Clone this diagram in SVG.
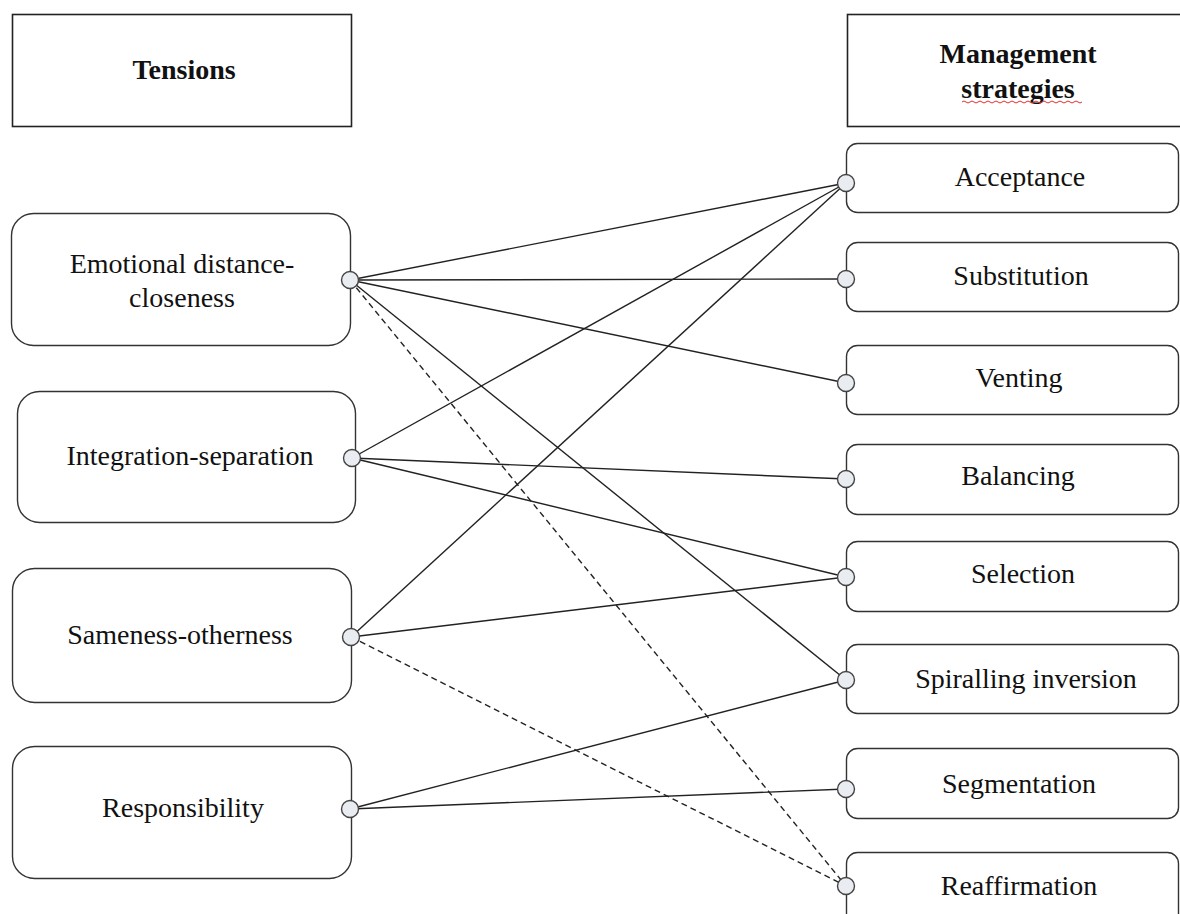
<svg xmlns="http://www.w3.org/2000/svg" width="1180" height="914" viewBox="0 0 1180 914">
<style>
.hdr{fill:#fff;stroke:#222;stroke-width:1.6}
.lb{fill:#fff;stroke:#333;stroke-width:1.4}
.rb{fill:#fff;stroke:#333;stroke-width:1.4}
.t{font-family:"Liberation Serif","Times New Roman",serif;font-size:28px;fill:#111;text-anchor:middle}
.b{font-weight:bold}
.c{stroke:#222;stroke-width:1.4;fill:none}
.d{stroke-dasharray:6 4}
.p{fill:#e9ecf1;stroke:#444;stroke-width:1.4}
</style>
<rect width="1180" height="914" fill="#fff"/>
<g id="hdr-tensions">
<rect class="hdr" x="12.5" y="14.5" width="339" height="112"/>
<text class="t b" x="184" y="79">Tensions</text>
</g>
<g id="hdr-strategies">
<rect class="hdr" x="847.5" y="14.5" width="340" height="112"/>
<text class="t b" x="1018" y="63">Management</text>
<text class="t b" x="1018" y="98">strategies</text>
<path d="M962 102 q2 -2 4 0 t4 0 t4 0 t4 0 t4 0 t4 0 t4 0 t4 0 t4 0 t4 0 t4 0 t4 0 t4 0 t4 0 t4 0 t4 0 t4 0 t4 0 t4 0 t4 0 t4 0 t4 0 t4 0 t4 0 t4 0 t4 0 t4 0 t4 0 t4 0 t4 0" fill="none" stroke="#e03030" stroke-width="1"/>
</g>
<g id="connectors">
<line class="c" x1="350" y1="280" x2="846" y2="183"/>
<line class="c" x1="350" y1="280" x2="846" y2="279"/>
<line class="c" x1="350" y1="280" x2="846" y2="383"/>
<line class="c" x1="350" y1="280" x2="846" y2="680"/>
<line class="c d" x1="350" y1="280" x2="846" y2="886"/>
<line class="c" x1="352" y1="458" x2="846" y2="183"/>
<line class="c" x1="352" y1="458" x2="846" y2="479"/>
<line class="c" x1="352" y1="458" x2="846" y2="577"/>
<line class="c" x1="351" y1="637" x2="846" y2="183"/>
<line class="c" x1="351" y1="637" x2="846" y2="577"/>
<line class="c d" x1="351" y1="637" x2="846" y2="886"/>
<line class="c" x1="350" y1="809" x2="846" y2="680"/>
<line class="c" x1="350" y1="809" x2="846" y2="789"/>
</g>
<g id="t-emotional">
<rect class="lb" x="11.5" y="213.5" width="339" height="132" rx="22"/>
<text class="t" x="182" y="273">Emotional distance-</text>
<text class="t" x="182" y="307">closeness</text>
<circle class="p" cx="350" cy="280" r="8.5"/>
</g>
<g id="t-integration">
<rect class="lb" x="17.5" y="391.5" width="338" height="131" rx="22"/>
<text class="t" x="190" y="465">Integration-separation</text>
<circle class="p" cx="352" cy="458" r="8.5"/>
</g>
<g id="t-sameness">
<rect class="lb" x="12.5" y="568.5" width="339" height="134" rx="22"/>
<text class="t" x="180" y="644">Sameness-otherness</text>
<circle class="p" cx="351" cy="637" r="8.5"/>
</g>
<g id="t-responsibility">
<rect class="lb" x="12.5" y="746.5" width="339" height="132" rx="22"/>
<text class="t" x="183" y="817">Responsibility</text>
<circle class="p" cx="350" cy="809" r="8.5"/>
</g>
<g id="s-acceptance">
<rect class="rb" x="846.5" y="143.5" width="332" height="69" rx="11"/>
<text class="t" x="1020" y="186">Acceptance</text>
<circle class="p" cx="846" cy="183" r="8.5"/>
</g>
<g id="s-substitution">
<rect class="rb" x="846.5" y="242.5" width="332" height="69" rx="11"/>
<text class="t" x="1021" y="285">Substitution</text>
<circle class="p" cx="846" cy="279" r="8.5"/>
</g>
<g id="s-venting">
<rect class="rb" x="846.5" y="345.5" width="332" height="69" rx="11"/>
<text class="t" x="1019" y="387">Venting</text>
<circle class="p" cx="846" cy="383" r="8.5"/>
</g>
<g id="s-balancing">
<rect class="rb" x="846.5" y="444.5" width="332" height="70" rx="11"/>
<text class="t" x="1018" y="485">Balancing</text>
<circle class="p" cx="846" cy="479" r="8.5"/>
</g>
<g id="s-selection">
<rect class="rb" x="846.5" y="541.5" width="332" height="70" rx="11"/>
<text class="t" x="1023" y="583">Selection</text>
<circle class="p" cx="846" cy="577" r="8.5"/>
</g>
<g id="s-spiralling">
<rect class="rb" x="846.5" y="644.5" width="332" height="69" rx="11"/>
<text class="t" x="1026" y="688">Spiralling inversion</text>
<circle class="p" cx="846" cy="680" r="8.5"/>
</g>
<g id="s-segmentation">
<rect class="rb" x="846.5" y="748.5" width="332" height="70" rx="11"/>
<text class="t" x="1019" y="793">Segmentation</text>
<circle class="p" cx="846" cy="789" r="8.5"/>
</g>
<g id="s-reaffirmation">
<rect class="rb" x="846.5" y="852.5" width="332" height="80" rx="11"/>
<text class="t" x="1019" y="895">Reaffirmation</text>
<circle class="p" cx="846" cy="886" r="8.5"/>
</g>
</svg>
